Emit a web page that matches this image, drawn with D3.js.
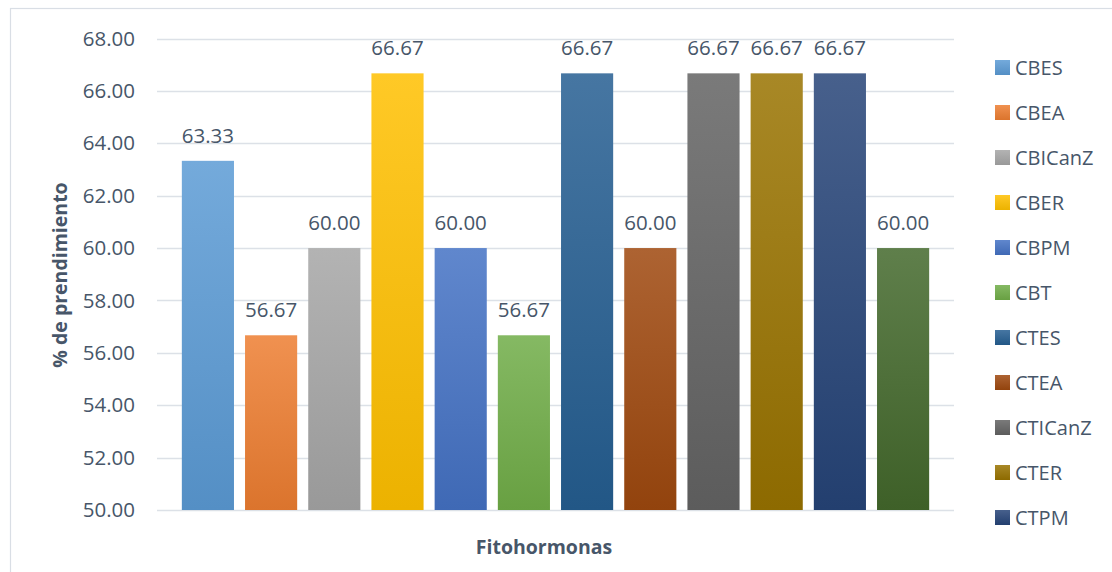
<!DOCTYPE html>
<html>
<head>
<meta charset="utf-8">
<script src="https://cdn.jsdelivr.net/npm/d3@7"></script>
<style>
  html, body { margin: 0; padding: 0; background: #fff; }
  svg { display: block; }
  text { font-family: "Open Sans", "Noto Sans", sans-serif; }
</style>
</head>
<body>
<svg id="chart" width="1112" height="572"></svg>
<script>
// Treatment names (one series per treatment, single category cluster)
const series = ["CBES", "CBEA", "CBICanZ", "CBER", "CBPM", "CBT",
                "CTES", "CTEA", "CTICanZ", "CTER", "CTPM", "CTT"];
// % de prendimiento per treatment
const values = [63.33, 56.67, 60.00, 66.67, 60.00, 56.67,
                66.67, 60.00, 66.67, 66.67, 66.67, 60.00];
// Y axis tick values
const yTicks = [50, 52, 54, 56, 58, 60, 62, 64, 66, 68];
// Base fill colours for each series
const colors = ["#5B9BD5", "#ED7D31", "#A5A5A5", "#FFC000", "#4472C4", "#70AD47",
                "#255E91", "#9E480E", "#636363", "#997300", "#264478", "#43682B"];
// Number of legend rows that fit in the panel
const legendRows = 11;

const svg = d3.select("#chart");
const textColor = "#475669";
const gridColor = "#DCE1E7";

// Plot area
const plot = { left: 157, right: 954, top: 38.5, bottom: 510 };

const x = d3.scaleBand()
  .domain(series)
  .range([plot.left, plot.right])
  .paddingInner(0.175)
  .paddingOuter(0.393);

const y = d3.scaleLinear()
  .domain([50, 68])
  .range([plot.bottom, plot.top]);

// Outer chart border
svg.append("rect")
  .attr("x", 10.5).attr("y", 8.5)
  .attr("width", 1120).attr("height", 600)
  .attr("fill", "none")
  .attr("stroke", "#D9DEE5")
  .attr("stroke-width", 1.2);

// Vertical gradients: lighter at the top, deeper at the bottom
const defs = svg.append("defs");
colors.forEach((c, i) => {
  const g = defs.append("linearGradient")
    .attr("id", "grad" + i)
    .attr("x1", 0).attr("y1", 0).attr("x2", 0).attr("y2", 1);
  const top = d3.interpolateRgb(c, "#ffffff")(0.15);
  const bottom = d3.rgb(c).darker(0.22).formatHex();
  g.append("stop").attr("offset", "0%").attr("stop-color", top);
  g.append("stop").attr("offset", "100%").attr("stop-color", bottom);
});

// Gridlines
svg.append("g")
  .selectAll("line")
  .data(yTicks)
  .join("line")
  .attr("x1", plot.left).attr("x2", plot.right)
  .attr("y1", d => Math.round(y(d)) + 0.5)
  .attr("y2", d => Math.round(y(d)) + 0.5)
  .attr("stroke", gridColor)
  .attr("stroke-width", 1.3);

// Y axis labels
const yAxis = d3.axisLeft(y)
  .tickValues(yTicks)
  .tickFormat(d3.format(".2f"))
  .tickSize(0)
  .tickPadding(0);

const yg = svg.append("g")
  .attr("transform", "translate(135,0)")
  .call(yAxis);
yg.select(".domain").remove();
yg.selectAll("text")
  .attr("fill", textColor)
  .attr("font-size", 20.5)
  .attr("font-family", "'Open Sans', sans-serif");

// Bars
const bars = series.map((s, i) => ({ name: s, value: values[i], idx: i }));

svg.append("g")
  .selectAll("rect")
  .data(bars)
  .join("rect")
  .attr("x", d => x(d.name))
  .attr("width", x.bandwidth())
  .attr("y", d => y(d.value))
  .attr("height", d => y(50) - y(d.value))
  .attr("fill", d => `url(#grad${d.idx})`);

// Value labels above the bars
svg.append("g")
  .selectAll("text")
  .data(bars)
  .join("text")
  .attr("x", d => x(d.name) + x.bandwidth() / 2)
  .attr("y", d => y(d.value) - 18)
  .attr("text-anchor", "middle")
  .attr("fill", textColor)
  .attr("font-size", 20.5)
  .text(d => d3.format(".2f")(d.value));

// Axis titles
svg.append("text")
  .attr("x", 544)
  .attr("y", 554)
  .attr("text-anchor", "middle")
  .attr("fill", textColor)
  .attr("font-size", 19.5)
  .attr("font-weight", "bold")
  .text("Fitohormonas");

svg.append("text")
  .attr("transform", "translate(67,275) rotate(-90)")
  .attr("text-anchor", "middle")
  .attr("fill", textColor)
  .attr("font-size", 19.5)
  .attr("font-weight", "bold")
  .text("% de prendimiento");

// Legend
const legend = svg.append("g")
  .selectAll("g")
  .data(bars.slice(0, legendRows))
  .join("g")
  .attr("transform", (d, i) => `translate(995,${60 + i * 45})`);

legend.append("rect")
  .attr("width", 15).attr("height", 15)
  .attr("fill", d => `url(#grad${d.idx})`);

legend.append("text")
  .attr("x", 20)
  .attr("y", 7.5)
  .attr("dy", "0.35em")
  .attr("fill", textColor)
  .attr("font-size", 20)
  .text(d => d.name);
</script>
</body>
</html>
